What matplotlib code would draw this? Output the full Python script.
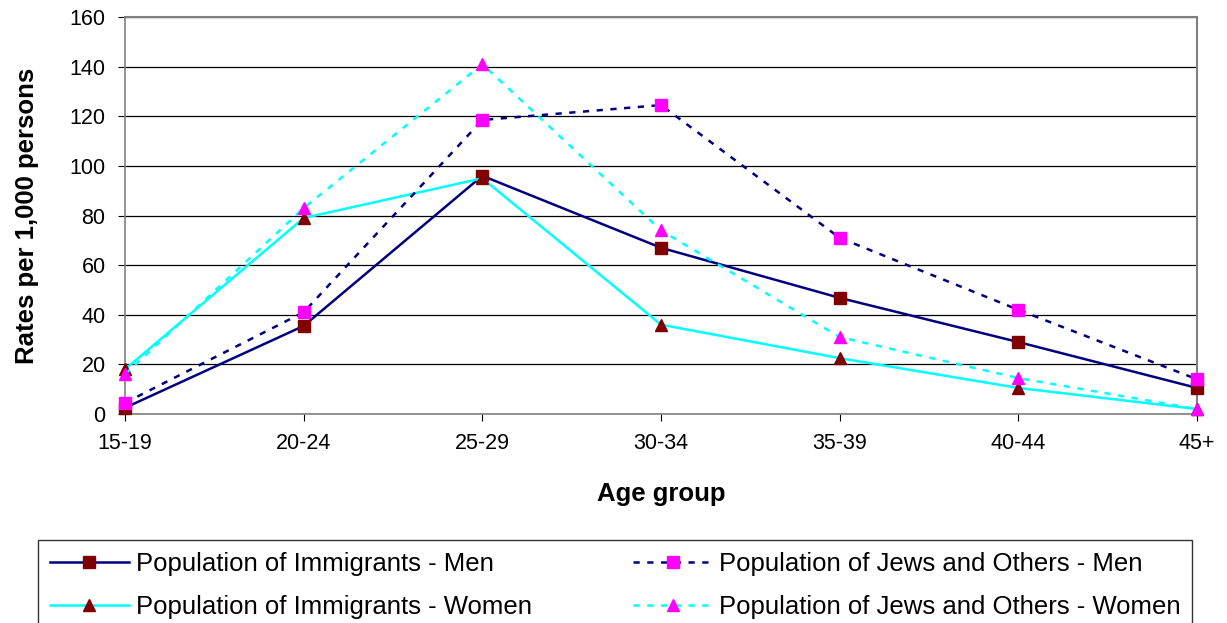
import matplotlib
matplotlib.use("Agg")
import matplotlib.pyplot as plt

categories = ["15-19", "20-24", "25-29", "30-34", "35-39", "40-44", "45+"]
imm_men = [2.5, 35.5, 96, 67, 46.8, 29, 10.5]
jews_men = [4.5, 41, 118.5, 124.5, 71, 42, 14]
imm_women = [18, 79, 95, 36, 22.5, 10.5, 2]
jews_women = [16, 83, 141, 74, 31, 14.5, 2]
yticks = [0, 20, 40, 60, 80, 100, 120, 140, 160]

plt.rcParams['font.family'] = ['Liberation Sans', 'DejaVu Sans']

fig = plt.figure(figsize=(12.27, 6.23), dpi=100)
ax = fig.add_axes([125/1227, 1-414/623, (1197-125)/1227, (414-17)/623])

x = list(range(len(categories)))
lw = 1.8
ms = 9
ax.plot(x, imm_men, color='#000080', lw=lw, marker='s', ms=ms, mfc='#800000', mec='#800000',
        label='Population of Immigrants - Men', zorder=3, clip_on=False)
ax.plot(x, imm_women, color='#00FFFF', lw=lw, marker='^', ms=ms, mfc='#800000', mec='#800000',
        label='Population of Immigrants - Women', zorder=3, clip_on=False)
ax.plot(x, jews_men, color='#000080', lw=lw, ls=(0, (2.5, 3)), marker='s', ms=ms, mfc='#FF00FF', mec='#FF00FF',
        label='Population of Jews and Others - Men', zorder=4, clip_on=False)
ax.plot(x, jews_women, color='#00FFFF', lw=lw, ls=(0, (2.5, 3)), marker='^', ms=ms, mfc='#FF00FF', mec='#FF00FF',
        label='Population of Jews and Others - Women', zorder=4, clip_on=False)

ax.set_xlim(0, len(categories) - 1)
ax.set_ylim(0, 160)
ax.set_yticks(yticks)
ax.set_yticklabels([str(v) for v in yticks], fontsize=15.5)
ax.set_xticks(x)
ax.set_xticklabels(categories, fontsize=15.5)
ax.yaxis.grid(True, color='black', lw=0.9)
ax.set_axisbelow(True)
ax.tick_params(axis='x', direction='out', length=5, pad=9)
ax.tick_params(axis='y', direction='out', length=5, pad=9)
for s in ['top', 'right']:
    ax.spines[s].set_color('#808080')
    ax.spines[s].set_linewidth(1.5)
for s in ['left', 'bottom']:
    ax.spines[s].set_color('#808080')
    ax.spines[s].set_linewidth(1.2)

ax.set_xlabel('Age group', fontsize=18.5, fontweight='bold', labelpad=20)
ax.set_ylabel('Rates per 1,000 persons', fontsize=18.5, fontweight='bold', labelpad=22)

handles, labels = ax.get_legend_handles_labels()
leg_top = 1 - 540/623
leg = fig.legend(handles, labels, ncol=2, loc='upper left',
                 bbox_to_anchor=(38/1227, leg_top - 0.3, (1192-38)/1227, 0.3),
                 mode='expand', fontsize=18.5, frameon=True, fancybox=False,
                 edgecolor='black', handlelength=3.1, handletextpad=0.25,
                 borderpad=0.45, labelspacing=0.75, columnspacing=2.0,
                 borderaxespad=0)
leg.get_frame().set_linewidth(1.0)

fig.savefig('out.png', dpi=100)
